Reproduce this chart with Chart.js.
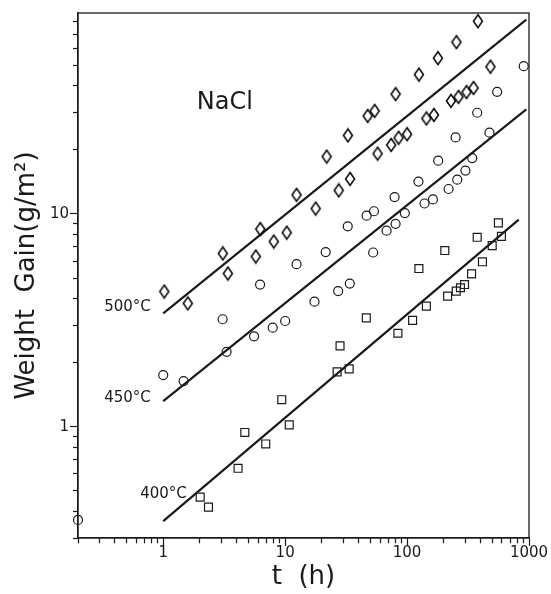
<!DOCTYPE html>
<html>
<head>
<meta charset="utf-8">
<script src="https://cdn.jsdelivr.net/npm/chart.js@4.4.1/dist/chart.umd.min.js"></script>
<style>
html, body { margin: 0; padding: 0; background: #fff; }
canvas { display: block; }
</style>
</head>
<body>
<canvas id="GainChart" width="551" height="594"></canvas>
<script>
// 500°C (diamonds)
let t500 = [1.02, 1.59, 3.08, 3.39, 5.74, 6.25, 8.07, 10.3, 12.4, 17.8, 21.9, 27.5, 34.1, 32.7, 47.5, 54.2,
    57.3, 74.0, 85.2, 100, 80.5, 125, 144, 166, 179, 229, 264, 307, 351, 254, 483, 381];
let w500 = [4.32, 3.80, 6.52, 5.25, 6.31, 8.49, 7.42, 8.17, 12.3, 10.6, 18.6, 12.9, 14.6, 23.4, 28.9, 30.5,
    19.2, 21.1, 22.8, 23.7, 36.6, 45.2, 28.1, 29.2, 54.0, 34.0, 35.5, 37.4, 39.1, 64.2, 49.2, 80.5];

// 450°C (circles)
let t450 = [0.2, 1.0, 1.47, 3.07, 3.31, 5.56, 6.23, 7.91, 10.0, 12.4, 17.4, 21.5, 27.2, 33.9, 32.6, 52.7,
    46.6, 53.5, 67.9, 80.5, 95.8, 79.0, 124, 139, 163, 180, 219, 258, 301, 342, 250, 376, 474, 548, 905];
let w450 = [0.365, 1.75, 1.64, 3.20, 2.25, 2.66, 4.66, 2.92, 3.14, 5.81, 3.87, 6.62, 4.34, 4.71, 8.75, 6.59,
    9.82, 10.3, 8.35, 8.99, 10.1, 12.0, 14.2, 11.2, 11.7, 17.8, 13.1, 14.5, 16.0, 18.3, 22.9, 29.9, 24.1, 37.5, 49.5];

// 400°C (squares)
let t400 = [2.01, 2.35, 4.11, 4.67, 6.93, 9.38, 10.8, 26.7, 33.5, 28.2, 46.3, 84.1, 111, 144, 125, 215,
    253, 274, 296, 204, 338, 415, 376, 499, 594, 561];
let w400 = [0.467, 0.419, 0.638, 0.94, 0.83, 1.34, 1.02, 1.81, 1.87, 2.40, 3.25, 2.75, 3.16, 3.69, 5.54, 4.11,
    4.34, 4.50, 4.66, 6.73, 5.23, 5.96, 7.77, 7.10, 7.85, 9.08];

// fitted lines, end points
let fitT500 = [1, 950];
let fitW500 = [3.41, 82];
let fitT450 = [1, 950];
let fitW450 = [1.32, 31];
let fitT400 = [1, 824];
let fitW400 = [0.36, 9.4];

let xMajor = [1, 10, 100, 1000];
let yMajor = [1, 10];

const ink = '#1a1a1a';
const fontFamily = 'DejaVu Sans';

let curveLabels = [
    { text: '500°C', t: 0.79, w: 3.64, size: 15, align: 'right' },
    { text: '450°C', t: 0.79, w: 1.36, size: 15, align: 'right' },
    { text: '400°C', t: 1.56, w: 0.484, size: 15, align: 'right' },
    { text: 'NaCl', t: 3.2, w: 33.2, size: 24, align: 'center' }
];

function LogTicks(min, max) {
    let values = [];
    for (let e = -1; e <= 3; e++) {
        for (let m = 1; m <= 9; m++) {
            let v = parseFloat((m * Math.pow(10, e)).toPrecision(3));
            if (v >= min - 1e-9 && v <= max + 1e-9) values.push(v);
        }
    }
    return values;
}

function Points(xs, ys) {
    return xs.map(function (x, i) { return { x: x, y: ys[i] }; });
}

function DiamondCanvas(w, h) {
    let c = document.createElement('canvas');
    c.width = w + 3;
    c.height = h + 3;
    let g = c.getContext('2d');
    g.strokeStyle = '#000';
    g.lineWidth = 1.5;
    g.beginPath();
    g.moveTo(c.width / 2, 1.5);
    g.lineTo(c.width - 1.5, c.height / 2);
    g.lineTo(c.width / 2, c.height - 1.5);
    g.lineTo(1.5, c.height / 2);
    g.closePath();
    g.stroke();
    return c;
}

function MarkerSeries(label, xs, ys, style, radius) {
    return {
        label: label,
        data: Points(xs, ys),
        pointStyle: style,
        pointRadius: radius,
        borderColor: ink,
        backgroundColor: 'rgba(0,0,0,0)',
        borderWidth: 1.2,
        clip: 12
    };
}

function FitSeries(label, xs, ys) {
    return {
        label: label,
        data: Points(xs, ys),
        showLine: true,
        borderColor: ink,
        borderWidth: 2.2,
        pointRadius: 0,
        fill: false
    };
}

let framePlugin = {
    id: 'frame',
    afterDatasetsDraw: function (chart) {
        let ctx = chart.ctx, a = chart.chartArea;
        ctx.save();
        ctx.strokeStyle = ink;
        ctx.lineWidth = 1.3;
        ctx.strokeRect(a.left, a.top, a.right - a.left, a.bottom - a.top);
        ctx.restore();
    }
};

let labelPlugin = {
    id: 'curveLabels',
    afterDatasetsDraw: function (chart) {
        let ctx = chart.ctx;
        ctx.save();
        ctx.fillStyle = ink;
        ctx.textBaseline = 'middle';
        curveLabels.forEach(function (l) {
            ctx.font = l.size + 'px "' + fontFamily + '"';
            ctx.textAlign = l.align;
            ctx.fillText(l.text, chart.scales.x.getPixelForValue(l.t), chart.scales.y.getPixelForValue(l.w));
        });
        ctx.restore();
    }
};

function AxisGrid(isMajor, minorDash, minorOffset) {
    return {
        drawOnChartArea: false,
        drawTicks: true,
        tickLength: 8,
        tickColor: ink,
        tickWidth: 1.2,
        tickBorderDash: function (c) { return isMajor(c.tick.value) ? [] : minorDash; },
        tickBorderDashOffset: function (c) { return isMajor(c.tick.value) ? 0 : minorOffset; }
    };
}

DrawChart();

function DrawChart() {
    let isXMajor = function (v) { return xMajor.indexOf(v) >= 0; };
    let isYMajor = function (v) { return yMajor.indexOf(v) >= 0; };

    window.gainChart = new Chart(document.getElementById('GainChart').getContext('2d'), {
        type: 'scatter',
        data: {
            datasets: [
                MarkerSeries('500°C', t500, w500, DiamondCanvas(9, 13), 5),
                MarkerSeries('450°C', t450, w450, 'circle', 4.5),
                MarkerSeries('400°C', t400, w400, 'rect', 5.6),
                FitSeries('fit 500°C', fitT500, fitW500),
                FitSeries('fit 450°C', fitT450, fitW450),
                FitSeries('fit 400°C', fitT400, fitW400)
            ]
        },
        options: {
            responsive: false,
            animation: false,
            events: [],
            layout: { padding: { top: 13, right: 22, left: 0, bottom: 0 } },
            plugins: { legend: { display: false }, tooltip: { enabled: false } },
            scales: {
                x: {
                    type: 'logarithmic',
                    min: 0.2,
                    max: 1000,
                    afterBuildTicks: function (scale) {
                        scale.ticks = LogTicks(0.2, 1000).map(function (v) { return { value: v }; });
                    },
                    afterFit: function (scale) { scale.height = 56; },
                    border: { display: true, color: ink, width: 1.3 },
                    grid: AxisGrid(isXMajor, [5, 20], 0),
                    ticks: {
                        autoSkip: false,
                        maxRotation: 0,
                        minRotation: 0,
                        padding: 0,
                        color: ink,
                        font: { family: fontFamily, size: 15, lineHeight: 1 },
                        callback: function (v) { return isXMajor(v) ? String(v) : ''; }
                    },
                    title: {
                        display: true,
                        text: 't  (h)',
                        color: ink,
                        font: { family: fontFamily, size: 26 },
                        padding: { top: 0, bottom: 1 }
                    }
                },
                y: {
                    type: 'logarithmic',
                    min: 0.3,
                    max: 88,
                    afterBuildTicks: function (scale) {
                        scale.ticks = LogTicks(0.3, 88).map(function (v) { return { value: v }; });
                    },
                    afterFit: function (scale) { scale.width = 78; },
                    border: { display: true, color: ink, width: 1.3 },
                    grid: AxisGrid(isYMajor, [5, 3], 5),
                    ticks: {
                        autoSkip: false,
                        padding: 1,
                        color: ink,
                        font: { family: fontFamily, size: 15 },
                        callback: function (v) { return isYMajor(v) ? String(v) : ''; }
                    },
                    title: {
                        display: true,
                        text: 'Weight  Gain(g/m²)',
                        color: ink,
                        font: { family: fontFamily, size: 26 },
                        padding: { top: 12, bottom: 0 }
                    }
                }
            }
        },
        plugins: [framePlugin, labelPlugin]
    });
}
</script>
</body>
</html>
